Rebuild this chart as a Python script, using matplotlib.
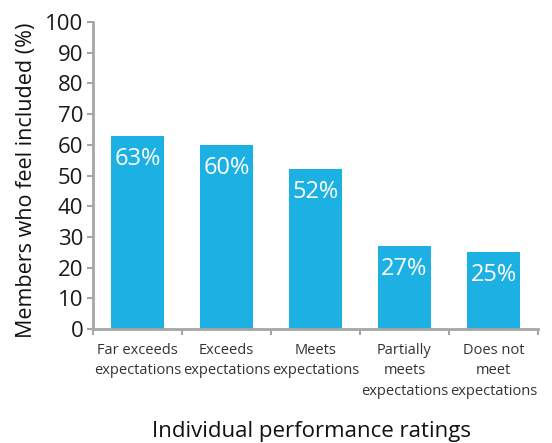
import matplotlib
matplotlib.use("Agg")
import matplotlib.pyplot as plt

categories = ["Far exceeds\nexpectations", "Exceeds\nexpectations", "Meets\nexpectations",
              "Partially\nmeets\nexpectations", "Does not\nmeet\nexpectations"]
values = [63, 60, 52, 27, 25]
value_labels = ["63%", "60%", "52%", "27%", "25%"]
yticks = [0, 10, 20, 30, 40, 50, 60, 70, 80, 90, 100]

plt.rcParams['font.family'] = ['Open Sans', 'DejaVu Sans']

fig = plt.figure(figsize=(5.52, 4.43), dpi=100)
ax = fig.add_axes([93/552, 1-329/443, 445/552, 307/443])

x = list(range(len(categories)))
bars = ax.bar(x, values, width=0.6, color="#1DB0E3", zorder=2)
for b, lab in zip(bars, value_labels):
    ax.annotate(lab, (b.get_x() + b.get_width()/2, b.get_height()),
                xytext=(0, -16.5), textcoords="offset points",
                ha="center", va="center", color="white", fontsize=17)

ax.set_xlim(-0.5, len(categories) - 0.5)
ax.set_ylim(0, 100)
ax.set_yticks(yticks)
ax.set_yticklabels([str(t) for t in yticks], fontsize=16, color="#1a1a1a")
ax.set_xticks(x)
ax.set_xticklabels(categories, fontsize=10.5, color="#333333", linespacing=1.5)
ax.set_xticks([i - 0.5 for i in range(len(categories) + 1)], minor=True)
ax.tick_params(axis="x", which="major", length=0, pad=10)
ax.tick_params(axis="x", which="minor", length=4, width=1.5, color="#A6A6A6", direction="out")
ax.tick_params(axis="y", length=4, width=1.5, color="#A6A6A6", direction="out", pad=3)

for s in ["top", "right"]:
    ax.spines[s].set_visible(False)
for s in ["left", "bottom"]:
    ax.spines[s].set_color("#A6A6A6")
    ax.spines[s].set_linewidth(2)

ax.set_ylabel("Members who feel included (%)", fontsize=15.5, color="#111111")
ax.yaxis.set_label_coords(-0.126, 0.485)
ax.set_xlabel("Individual performance ratings", fontsize=16, color="#111111")
ax.xaxis.set_label_coords(0.49, -0.300)

fig.savefig("out.png", dpi=100)
